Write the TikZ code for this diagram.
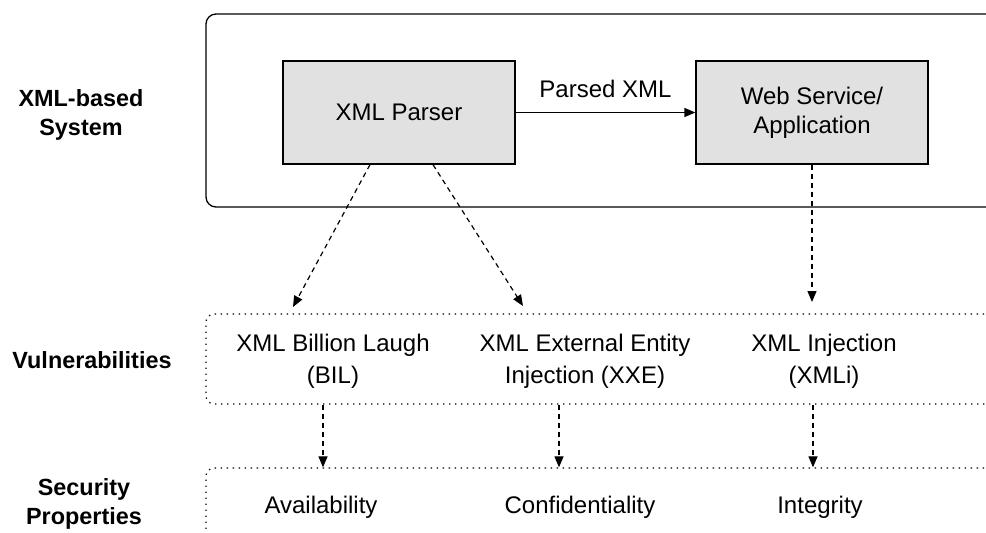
\documentclass[tikz,border=0pt]{standalone}
\usepackage{fontspec}
\setmainfont{Liberation Sans}
\usepackage{tikz}
\usetikzlibrary{arrows.meta}
\definecolor{boxgray}{HTML}{E1E1E1}
\tikzstyle{component}=[draw=black,fill=boxgray,line width=0.65pt,minimum width=116pt,minimum height=51.5pt,inner sep=0pt,align=center,font=\fontsize{12}{14.5}\selectfont]
\tikzstyle{item}=[inner sep=0pt,align=center,font=\fontsize{12}{16}\selectfont]
\tikzstyle{tier}=[inner sep=0pt,align=center,font=\fontsize{11.7}{14.2}\selectfont\bfseries]
\tikzstyle{sysframe}=[draw=black,line width=0.65pt,rounded corners=5pt,minimum width=402pt,inner sep=0pt]
\tikzstyle{rowframe}=[draw=black,line width=0.65pt,dash pattern=on 0.65pt off 2.35pt,rounded corners=4pt,minimum width=402pt,inner sep=0pt]
\tikzstyle{flow}=[line width=0.65pt,-{Triangle[length=5.5pt,width=4.5pt]}]
\tikzstyle{link}=[line width=0.6pt,dash pattern=on 2.5pt off 2pt,-{Triangle[length=5.5pt,width=4.5pt]}]

\begin{document}
\begin{tikzpicture}[x=0.5pt,y=-0.5pt]

      \useasboundingbox (0,0) rectangle (986,532);
      \clip (0,0) rectangle (986,532);

      % the three layers
      \node[sysframe,minimum height=96.5pt] (system) at (608,110.5) {};
      \node[rowframe,minimum height=45pt] (vulnrow) at (608,359) {};
      \node[rowframe,minimum height=46pt] (secrow) at (608,514) {};

      \node[tier] (syslabel) at (81,115) {XML-based\\System};
      \node[tier] (vullabel) at (92,360) {Vulnerabilities};
      \node[tier] (seclabel) at (84,504) {Security\\Properties};

      \node[component] (parser) at (399,112.5) {XML Parser};
      \node[component] (webapp) at (812,112.5) {Web Service/\\Application};

      \node[item] (bil) at (333,361) {XML Billion Laugh\\(BIL)};
      \node[item] (xxe) at (585,361) {XML External Entity\\Injection (XXE)};
      \node[item] (xmli) at (824,361) {XML Injection\\(XMLi)};

      \node[item] (avail) at (321,507) {Availability};
      \node[item] (conf) at (580,507) {Confidentiality};
      \node[item] (integ) at (820,507) {Integrity};

      \coordinate (bilin) at (293,307);
      \coordinate (xxein) at (523,306);
      \coordinate (xmliin) at (812,302);
      \coordinate (availtap) at (323,0);
      \coordinate (conftap) at (559,0);
      \coordinate (integtap) at (813,0);

      \draw[flow] (parser) -- node[item,above=7pt] (parsed) {Parsed XML} (webapp);

      \draw[link] ([xshift=-14.5pt]parser.south) -- (bilin);
      \draw[link] ([xshift=17pt]parser.south) -- (xxein);
      \draw[link] (webapp.south) -- (xmliin);

      \draw[link] (vulnrow.south -| availtap) -- (secrow.north -| availtap);
      \draw[link] (vulnrow.south -| conftap) -- (secrow.north -| conftap);
      \draw[link] (vulnrow.south -| integtap) -- (secrow.north -| integtap);

    \end{tikzpicture}
\end{document}
